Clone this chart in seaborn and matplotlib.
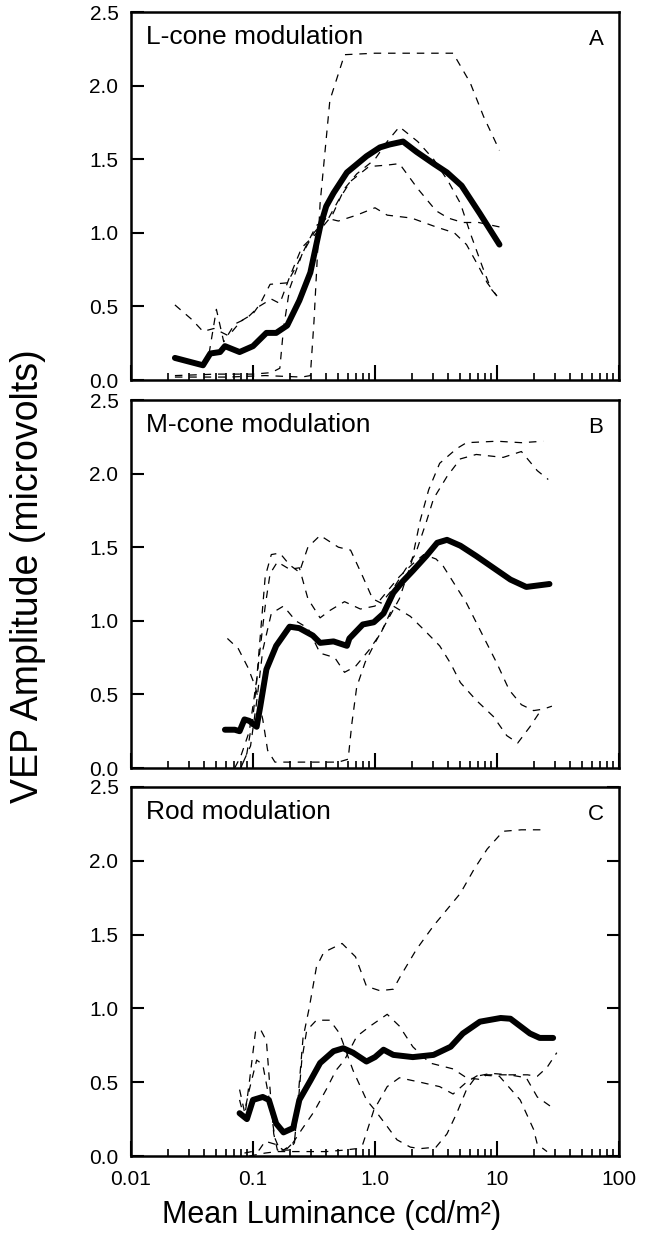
import numpy as np
import pandas as pd
import matplotlib
matplotlib.use("Agg")
import matplotlib.pyplot as plt
import seaborn as sns
from matplotlib.ticker import LogLocator, NullFormatter, FixedLocator

sns.set_style("ticks")
plt.rcParams['font.family'] = ['Liberation Sans', 'DejaVu Sans']
plt.rcParams.update({"axes.edgecolor": "black", "xtick.color": "black", "ytick.color": "black",
                     "text.color": "black", "axes.labelcolor": "black"})

# ---------------- data: (log10 mean luminance [cd/m2], VEP amplitude [uV]) ----------------
# Panel A: L-cone modulation
A_mean = [(-1.64,0.15),(-1.41,0.10),(-1.35,0.18),(-1.27,0.19),(-1.23,0.23),(-1.11,0.19),(-1.0,0.23),
          (-0.89,0.32),(-0.81,0.32),(-0.72,0.37),(-0.62,0.54),(-0.53,0.73),(-0.45,1.04),(-0.40,1.18),
          (-0.34,1.27),(-0.23,1.41),(-0.07,1.52),(0.04,1.58),(0.12,1.60),(0.23,1.62),(0.34,1.55),
          (0.48,1.47),(0.59,1.41),(0.71,1.32),(0.86,1.13),(1.02,0.92)]
A_s1 = [(-1.64,0.02),(-1.2,0.02),(-0.9,0.03),(-0.6,0.02),(-0.53,0.03),(-0.5,0.40),(-0.45,1.20),
        (-0.37,1.90),(-0.25,2.21),(0.0,2.22),(0.4,2.22),(0.64,2.22),(0.78,2.02),(0.89,1.79),(1.02,1.56)]
A_s2 = [(-1.36,0.18),(-1.30,0.48),(-1.24,0.26),(-1.15,0.38),(-1.05,0.42),(-0.95,0.50),(-0.85,0.55),
        (-0.78,0.52),(-0.70,0.70),(-0.60,0.90),(-0.50,0.98),(-0.42,1.05),(-0.35,1.12),(-0.25,1.30),
        (-0.15,1.40),(0.0,1.50),(0.1,1.62),(0.2,1.72),(0.35,1.62),(0.48,1.50),(0.6,1.35),(0.7,1.20),
        (0.78,1.00),(0.88,0.77),(0.95,0.62),(1.02,0.55)]
A_s3 = [(-1.64,0.51),(-1.5,0.41),(-1.41,0.33),(-1.32,0.35),(-1.2,0.30),(-1.1,0.40),(-1.0,0.45),
        (-0.94,0.52),(-0.86,0.65),(-0.72,0.66),(-0.64,0.78),(-0.56,0.92),(-0.48,1.05),(-0.38,1.10),
        (-0.3,1.22),(-0.2,1.35),(-0.05,1.45),(0.1,1.46),(0.2,1.47),(0.35,1.30),(0.5,1.15),(0.6,1.10),
        (0.72,1.07),(0.85,1.07),(1.02,1.04)]
A_s4 = [(-1.64,0.03),(-1.3,0.04),(-1.0,0.04),(-0.85,0.05),(-0.78,0.08),(-0.75,0.35),(-0.70,0.62),
        (-0.6,0.85),(-0.5,1.0),(-0.4,1.1),(-0.3,1.08),(-0.15,1.12),(0.0,1.17),(0.1,1.12),(0.3,1.10),
        (0.5,1.04),(0.65,1.0),(0.75,0.92),(0.85,0.77),(0.92,0.66),(1.0,0.57)]

# Panel B: M-cone modulation
B_mean = [(-1.23,0.26),(-1.15,0.26),(-1.11,0.25),(-1.07,0.33),(-1.03,0.32),(-0.97,0.28),(-0.94,0.42),
          (-0.89,0.67),(-0.81,0.83),(-0.70,0.96),(-0.62,0.95),(-0.51,0.90),(-0.45,0.85),(-0.34,0.86),
          (-0.23,0.83),(-0.21,0.88),(-0.10,0.975),(-0.01,0.99),(0.07,1.05),(0.15,1.19),(0.23,1.27),
          (0.31,1.34),(0.42,1.44),(0.51,1.53),(0.59,1.55),(0.70,1.51),(0.83,1.44),(0.97,1.36),
          (1.11,1.28),(1.24,1.23),(1.43,1.25)]
B_s1 = [(-1.21,0.88),(-1.12,0.81),(-1.04,0.68),(-0.98,0.55),(-0.92,0.33),(-0.88,0.12),(-0.82,0.04),
        (-0.7,0.04),(-0.5,0.04),(-0.3,0.04),(-0.22,0.06),(-0.19,0.30),(-0.15,0.55),(-0.08,0.72),
        (0.0,0.85),(0.1,1.0),(0.2,1.15),(0.3,1.40),(0.37,1.68),(0.44,1.89),(0.53,2.07),(0.67,2.17),
        (0.75,2.21),(1.0,2.22),(1.2,2.21),(1.38,2.22)]
B_s2 = [(-1.15,0.0),(-1.1,0.08),(-1.03,0.25),(-0.97,0.6),(-0.93,1.0),(-0.9,1.3),(-0.85,1.45),
        (-0.78,1.46),(-0.7,1.38),(-0.62,1.33),(-0.55,1.5),(-0.45,1.58),(-0.3,1.50),(-0.2,1.48),
        (-0.1,1.30),(-0.02,1.15),(0.05,1.12),(0.15,1.22),(0.25,1.35),(0.33,1.45),(0.42,1.67),
        (0.48,1.83),(0.59,1.98),(0.7,2.10),(0.83,2.13),(1.05,2.11),(1.2,2.15),(1.33,2.02),(1.42,1.96)]
B_s3 = [(-1.1,0.0),(-1.05,0.1),(-1.0,0.35),(-0.95,0.75),(-0.9,1.1),(-0.86,1.32),(-0.8,1.4),
        (-0.7,1.35),(-0.62,1.36),(-0.55,1.15),(-0.45,1.02),(-0.37,1.07),(-0.25,1.13),(-0.12,1.08),
        (0.0,1.1),(0.1,1.2),(0.2,1.3),(0.3,1.38),(0.4,1.45),(0.5,1.42),(0.56,1.37),(0.75,1.12),
        (0.89,0.89),(1.0,0.71),(1.1,0.53),(1.2,0.43),(1.3,0.39),(1.38,0.40),(1.45,0.42)]
B_s4 = [(-1.08,0.04),(-1.02,0.15),(-0.97,0.45),(-0.92,0.8),(-0.85,1.05),(-0.75,1.1),(-0.65,1.0),
        (-0.55,0.95),(-0.45,0.78),(-0.33,0.75),(-0.25,0.65),(-0.16,0.69),(-0.05,0.80),(0.05,0.92),
        (0.15,1.10),(0.29,1.03),(0.4,0.94),(0.53,0.83),(0.62,0.71),(0.7,0.58),(0.83,0.46),
        (0.97,0.35),(1.08,0.22),(1.17,0.17),(1.27,0.28),(1.35,0.38)]

# Panel C: Rod modulation
C_mean = [(-1.11,0.29),(-1.05,0.25),(-1.0,0.38),(-0.92,0.40),(-0.87,0.38),(-0.81,0.22),(-0.75,0.16),
          (-0.67,0.19),(-0.62,0.38),(-0.53,0.51),(-0.45,0.63),(-0.34,0.71),(-0.26,0.73),(-0.18,0.70),
          (-0.07,0.64),(0.0,0.67),(0.07,0.72),(0.15,0.685),(0.31,0.67),(0.48,0.685),(0.62,0.74),
          (0.72,0.83),(0.86,0.91),(1.03,0.935),(1.11,0.93),(1.27,0.83),(1.35,0.80),(1.46,0.80)]
C_s1 = [(-1.11,0.45),(-1.07,0.30),(-1.03,0.45),(-0.97,0.65),(-0.92,0.62),(-0.87,0.40),(-0.82,0.12),
        (-0.78,0.04),(-0.70,0.04),(-0.66,0.09),(-0.62,0.50),(-0.59,0.80),(-0.54,1.0),(-0.48,1.28),
        (-0.42,1.38),(-0.27,1.44),(-0.16,1.35),(-0.07,1.15),(0.04,1.12),(0.15,1.13),(0.21,1.22),
        (0.34,1.40),(0.48,1.56),(0.59,1.67),(0.7,1.78),(0.81,1.94),(0.92,2.08),(1.05,2.20),
        (1.2,2.21),(1.39,2.21)]
C_s2 = [(-1.11,0.38),(-1.07,0.25),(-1.03,0.50),(-0.98,0.84),(-0.94,0.86),(-0.89,0.78),(-0.86,0.45),
        (-0.83,0.15),(-0.8,0.04),(-0.72,0.05),(-0.66,0.10),(-0.63,0.35),(-0.6,0.65),(-0.56,0.85),
        (-0.48,0.92),(-0.37,0.92),(-0.29,0.83),(-0.18,0.58),(-0.07,0.38),(0.0,0.31),(0.1,0.20),
        (0.18,0.11),(0.29,0.06),(0.37,0.05),(0.5,0.06),(0.59,0.15),(0.67,0.29),(0.75,0.45),
        (0.83,0.54),(0.95,0.56),(1.1,0.55),(1.25,0.55),(1.33,0.54),(1.41,0.60),(1.49,0.70)]
C_s3 = [(-1.07,0.02),(-0.95,0.04),(-0.9,0.10),(-0.82,0.08),(-0.75,0.04),(-0.68,0.08),(-0.6,0.18),
        (-0.5,0.30),(-0.4,0.45),(-0.32,0.58),(-0.25,0.65),(-0.15,0.81),(-0.04,0.88),(0.1,0.96),
        (0.2,0.88),(0.31,0.74),(0.45,0.63),(0.64,0.59),(0.75,0.53),(0.85,0.52),(0.92,0.55),
        (1.1,0.55),(1.24,0.53),(1.33,0.40),(1.45,0.33)]
C_s4 = [(-1.03,0.0),(-0.9,0.02),(-0.8,0.03),(-0.7,0.03),(-0.55,0.03),(-0.4,0.03),(-0.25,0.04),
        (-0.15,0.05),(-0.1,0.08),(-0.01,0.31),(0.1,0.47),(0.2,0.53),(0.37,0.50),(0.53,0.47),
        (0.64,0.42),(0.75,0.50),(0.85,0.55),(1.02,0.54),(1.19,0.38),(1.3,0.18),(1.33,0.08),(1.41,0.03)]

panel_titles = ["L-cone modulation", "M-cone modulation", "Rod modulation"]
panel_letters = ["A", "B", "C"]
xtick_values = [0.01, 0.1, 1.0, 10, 100]
xtick_labels = ["0.01", "0.1", "1.0", "10", "100"]
ytick_values = [0.0, 0.5, 1.0, 1.5, 2.0, 2.5]
ytick_labels = ["0.0", "0.5", "1.0", "1.5", "2.0", "2.5"]

panels = [
    {"mean": A_mean, "subjects": [A_s1, A_s2, A_s3, A_s4]},
    {"mean": B_mean, "subjects": [B_s1, B_s2, B_s3, B_s4]},
    {"mean": C_mean, "subjects": [C_s1, C_s2, C_s3, C_s4]},
]


def to_frame(pairs):
    arr = np.array(pairs, dtype=float)
    return pd.DataFrame({"lum": np.power(10.0, arr[:, 0]), "amp": arr[:, 1]})


fig = plt.figure(figsize=(6.52, 12.39), dpi=100)
W, H = 652.0, 1239.0
left, right = 131, 619
tops = [12, 400, 787]
bottoms = [380, 768, 1156]

for i, p in enumerate(panels):
    ax = fig.add_axes([left / W, 1 - bottoms[i] / H, (right - left) / W, (bottoms[i] - tops[i]) / H])
    for subj in p["subjects"]:
        sns.lineplot(data=to_frame(subj), x="lum", y="amp", ax=ax, color="black",
                     linewidth=0.9, linestyle=(0, (6, 5.5)), sort=False, estimator=None)
    sns.lineplot(data=to_frame(p["mean"]), x="lum", y="amp", ax=ax, color="black",
                 linewidth=4.3, sort=False, estimator=None, solid_capstyle="round",
                 solid_joinstyle="round")
    ax.set_xscale("log")
    ax.set_xlim(0.01, 100)
    ax.set_ylim(0, 2.5)
    ax.set_xlabel("")
    ax.set_ylabel("")
    ax.xaxis.set_major_locator(FixedLocator(xtick_values))
    ax.xaxis.set_minor_locator(LogLocator(base=10, subs=np.arange(2, 10)))
    ax.xaxis.set_minor_formatter(NullFormatter())
    ax.set_yticks(ytick_values)
    ax.set_yticklabels(ytick_labels)
    if i == 2:
        ax.set_xticklabels(xtick_labels)
    else:
        ax.set_xticklabels([])
    for s in ax.spines.values():
        s.set_linewidth(1.8)
        s.set_color("black")
        s.set_visible(True)
    ax.tick_params(axis="both", which="major", direction="in", length=10, width=1.5,
                   labelsize=15, pad=9, top=False, colors="black")
    ax.tick_params(axis="x", which="minor", direction="in", length=5, width=1.2, top=False,
                   colors="black")
    ax.tick_params(axis="y", which="major", right=(i == 2), labelright=False, length=9)
    ax.tick_params(axis="x", which="major", length=11, pad=10)
    ax.text(0.03, 0.965, panel_titles[i], transform=ax.transAxes, ha="left", va="top", fontsize=19)
    ax.text(0.968, 0.955, panel_letters[i], transform=ax.transAxes, ha="right", va="top", fontsize=16)

fig.text(0.043, 0.535, "VEP Amplitude (microvolts)", rotation=90, ha="center", va="center", fontsize=27)
fig.text(0.508, 0.0195, "Mean Luminance (cd/m²)", ha="center", va="center", fontsize=22)

fig.savefig("out.png", dpi=100)
